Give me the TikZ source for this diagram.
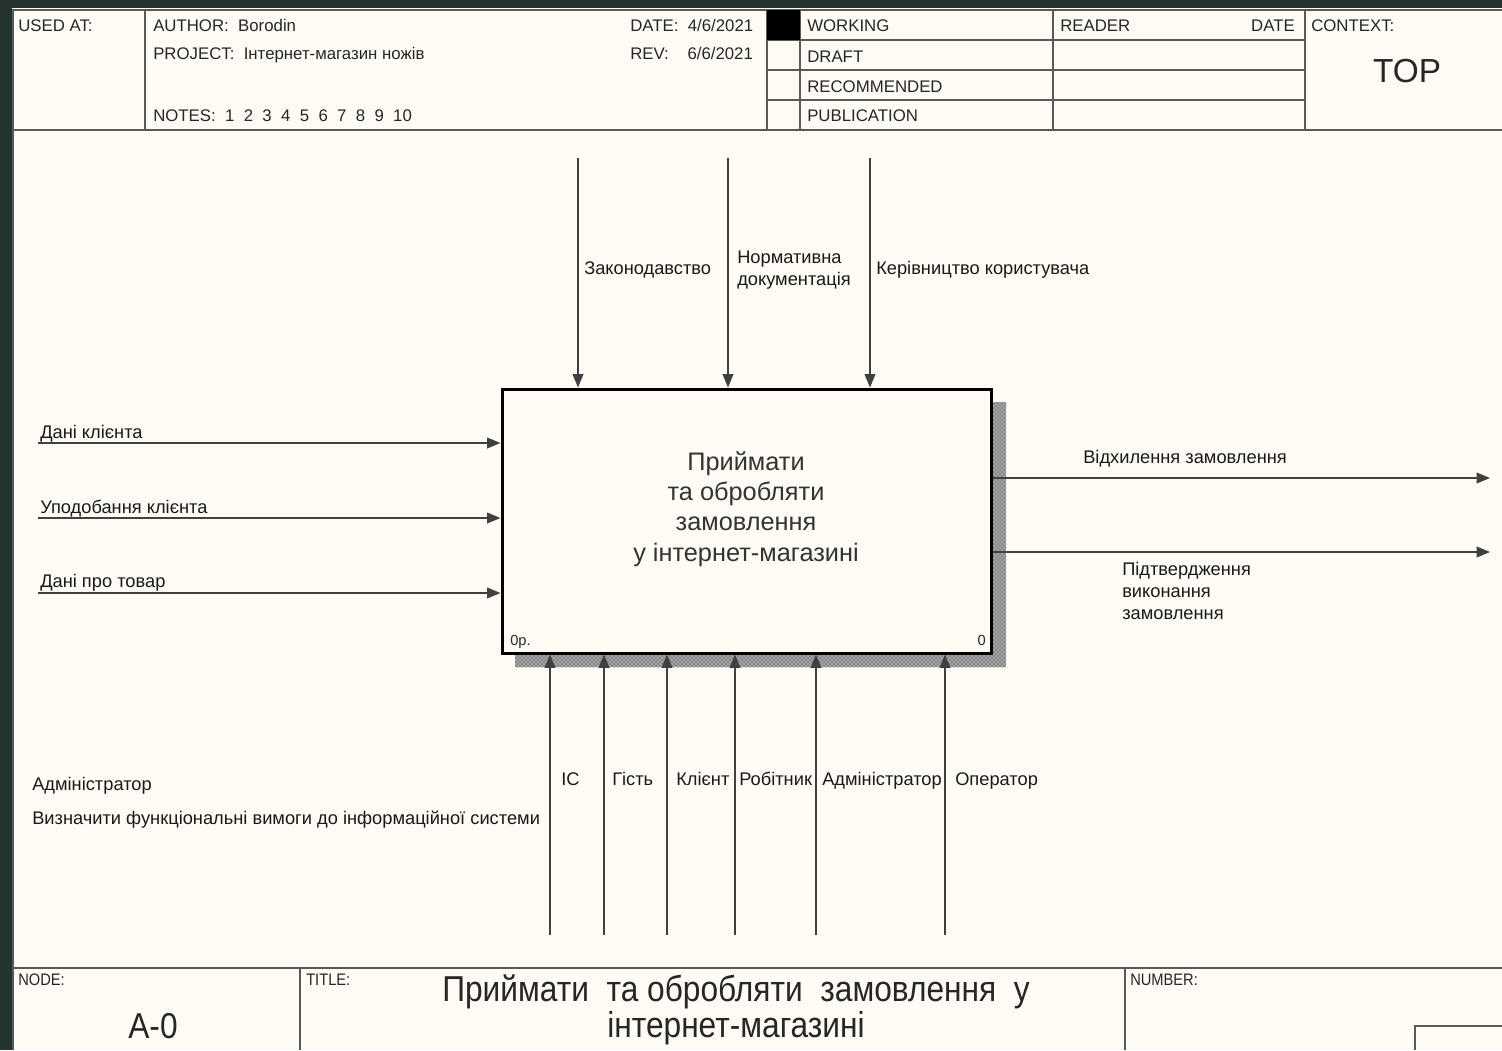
\documentclass[tikz,border=0pt]{standalone}
\usepackage{fontspec}
\setmainfont{Liberation Sans}
\newfontfamily\narrowfont[FakeStretch=0.88]{Liberation Sans}
\usetikzlibrary{arrows.meta,patterns}

\definecolor{frameclr}{RGB}{38,52,47}
\definecolor{paperclr}{RGB}{253,251,243}

\begin{document}
\begin{tikzpicture}[x=0.75pt,y=0.75pt,yscale=-1,xscale=1,
  hdr/.style={anchor=base west,inner sep=0pt,text=black!85,font=\fontsize{12.6}{15}\selectfont},
  lbl/.style={anchor=base west,inner sep=0pt,text=black!90,align=left,font=\fontsize{13.7}{16.5}\selectfont},
  frm/.style={draw=black!65,line width=1.4pt},
  arr/.style={draw=black!75,line width=1.1pt,-{Triangle[length=10pt,width=8pt]}},
  shadow/.style={fill=black!35,postaction={pattern=crosshatch dots,pattern color=black!90}},
  funcbox/.style={draw=black,fill=paperclr,line width=2.25pt,minimum width=366.75pt,minimum height=198pt,inner sep=0pt}]

%Shape: Background
\fill[frameclr] (0,0) rectangle (1502,1050);
\fill[paperclr] (12,8) rectangle (1502,1050);
\useasboundingbox (0,0) rectangle (1502,1050);

%Straight Lines: header frame
\draw[frm] (13,1050) -- (13,10) -- (1502,10);
\draw[frm] (13,130) -- (1502,130);
\draw[frm] (145,10) -- (145,130);
\draw[frm] (767,10) -- (767,130);
\draw[frm] (800,10) -- (800,130);
\draw[frm] (1053,10) -- (1053,130);
\draw[frm] (1305,10) -- (1305,130);
\foreach \y in {40,70,100} \draw[frm] (767,\y) -- (1305,\y);
\fill[black] (767,10) rectangle (800,40);

%Straight Lines: footer frame
\draw[frm] (13,968) -- (1502,968);
\draw[frm] (300,968) -- (300,1050);
\draw[frm] (1125,968) -- (1125,1050);
\draw[frm] (1415,1050) -- (1415,1026) -- (1502,1026);

% Text Node: header
\node[hdr] (usedat) at (18,31) {USED AT:};
\node[hdr] (author) at (153,31) {AUTHOR:\ \ Borodin};
\node[hdr] (project) at (153,59) {PROJECT:\ \ Інтернет-магазин ножів};
\node[hdr] (notes) at (153,121) {NOTES:\ \ 1\ \ 2\ \ 3\ \ 4\ \ 5\ \ 6\ \ 7\ \ 8\ \ 9\ \ 10};
\node[hdr] (date) at (630,31) {DATE:\ \ 4/6/2021};
\node[hdr] (rev) at (630,59) {REV:\ \ \ \ 6/6/2021};
\node[hdr] (working) at (807,31) {WORKING};
\node[hdr] (draft) at (807,62) {DRAFT};
\node[hdr] (recom) at (807,92) {RECOMMENDED};
\node[hdr] (publ) at (807,121) {PUBLICATION};
\node[hdr] (reader) at (1060,31) {READER};
\node[hdr,anchor=base east] (rdate) at (1295,31) {DATE};
\node[hdr] (context) at (1311,31) {CONTEXT:};
\node[hdr,anchor=base,font=\fontsize{25}{28}\selectfont] (top) at (1407,82) {TOP};

%Shape: Shadow
\path[shadow] (993,402) rectangle (1006,667);
\path[shadow] (515,655) rectangle (993,667);

%Shape: Function box
\node[funcbox] (func) at (746.5,521) {};
\node[align=center,inner sep=0pt,text=black!80,font=\fontsize{19}{22.7}\selectfont] (functxt) at (746,509)
  {Приймати\\та обробляти\\замовлення\\у інтернет-магазині};
\node[hdr,font=\fontsize{11}{12}\selectfont] (cost) at (510,645) {0р.};
\node[hdr,anchor=base east,font=\fontsize{11}{12}\selectfont] (num) at (986,645) {0};

%Straight Lines: controls
\coordinate (c1) at (578,158);
\coordinate (c2) at (728,158);
\coordinate (c3) at (870,158);
\draw[arr] (c1) -- (c1 |- func.north);
\draw[arr] (c2) -- (c2 |- func.north);
\draw[arr] (c3) -- (c3 |- func.north);
\node[lbl] (law) at (584,274) {Законодавство};
\node[lbl] (normdoc) at (737,285) {Нормативна\\документація};
\node[lbl] (guide) at (876,274) {Керівництво користувача};

%Straight Lines: inputs
\coordinate (i1) at (38,443);
\coordinate (i2) at (38,518);
\coordinate (i3) at (38,593);
\draw[arr] (i1) -- (i1 -| func.west);
\draw[arr] (i2) -- (i2 -| func.west);
\draw[arr] (i3) -- (i3 -| func.west);
\node[lbl] (clientdata) at (40,438) {Дані клієнта};
\node[lbl] (clientpref) at (40,513) {Уподобання клієнта};
\node[lbl] (itemdata) at (40,587) {Дані про товар};

%Straight Lines: outputs
\coordinate (o1) at (1490,478);
\coordinate (o2) at (1490,552);
\draw[arr] (o1 -| func.east) -- (o1);
\draw[arr] (o2 -| func.east) -- (o2);
\node[lbl] (reject) at (1083,463) {Відхилення замовлення};
\node[lbl] (confirm) at (1122,619) {Підтвердження\\виконання\\замовлення};

%Straight Lines: mechanisms
\coordinate (m1) at (550,935);
\coordinate (m2) at (604,935);
\coordinate (m3) at (667,935);
\coordinate (m4) at (735,935);
\coordinate (m5) at (816,935);
\coordinate (m6) at (945,935);
\foreach \m in {m1,m2,m3,m4,m5,m6} \draw[arr] (\m) -- (\m |- func.south);
\node[lbl] (is) at (561,785) {ІС};
\node[lbl] (guest) at (612,785) {Гість};
\node[lbl] (client) at (676,785) {Клієнт};
\node[lbl] (worker) at (739,785) {Робітник};
\node[lbl] (admin) at (822,785) {Адміністратор};
\node[lbl] (oper) at (955,785) {Оператор};

% Text Node: free notes
\node[lbl] (noteadmin) at (32,790) {Адміністратор};
\node[lbl] (notereq) at (32,824) {Визначити функціональні вимоги до інформаційної системи};

% Text Node: footer
\node[hdr,font=\narrowfont\fontsize{12.5}{14}\selectfont] (nodelbl) at (18,985) {NODE:};
\node[hdr,font=\narrowfont\fontsize{12.5}{14}\selectfont] (titlelbl) at (306,985) {TITLE:};
\node[hdr,font=\narrowfont\fontsize{12.5}{14}\selectfont] (numlbl) at (1130,985) {NUMBER:};
\node[hdr,anchor=base,font=\narrowfont\fontsize{27}{27}\selectfont] (nodeid) at (153,1038) {A-0};
\node[align=center,inner sep=0pt,text=black!85,font=\narrowfont\fontsize{27}{27}\selectfont] (title) at (736,1010)
  {Приймати\ \ та обробляти\ \ замовлення\ \ у\\інтернет-магазині};

\end{tikzpicture}
\end{document}
